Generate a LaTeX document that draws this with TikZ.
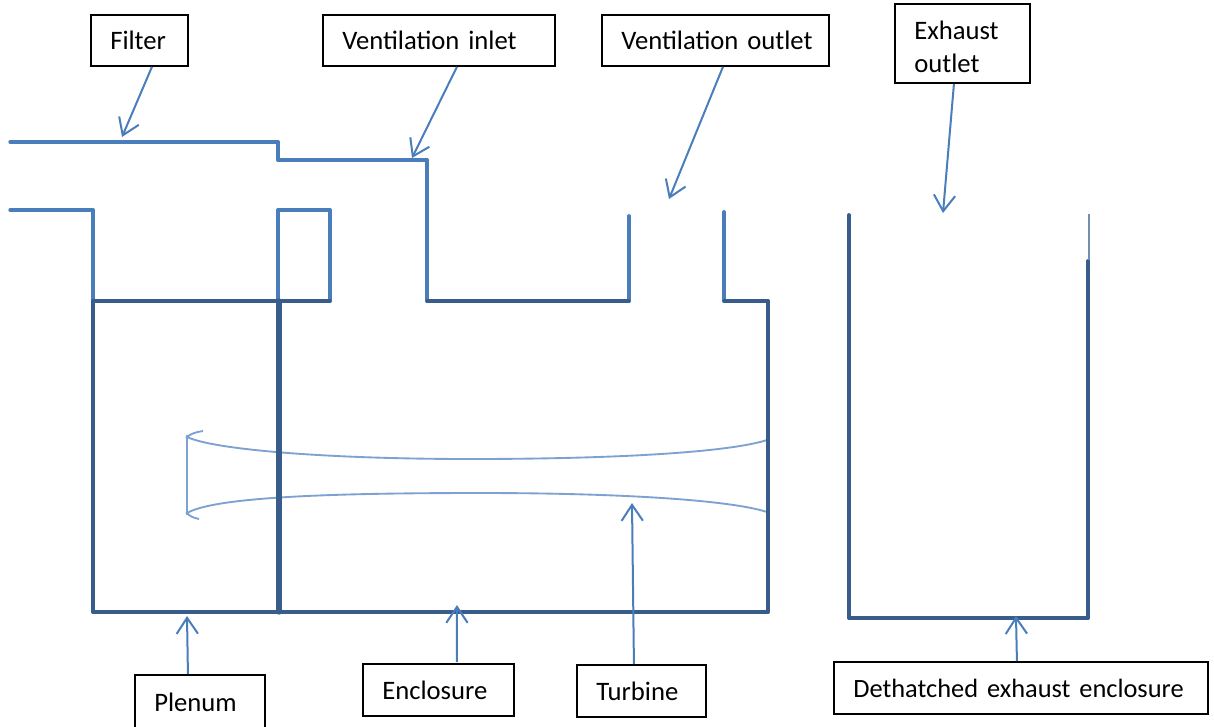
\documentclass[tikz,border=0pt]{standalone}
\usepackage{fontspec}
\setmainfont{Carlito}
\usetikzlibrary{arrows.meta,calc}
\newcommand{\ind}{\hspace*{14.5pt}}
\tikzset{
  lblbox/.style={draw=black,line width=1.4pt,fill=white,anchor=north west,inner xsep=0pt,inner ysep=0pt,
    align=left,font=\fontsize{20}{24.75}\selectfont,text=black},
  pointer/.style={draw=arrowblue,line width=1.5pt,-{Straight Barb[length=12pt,width=16pt,line width=1.5pt]}},
  wall/.style={draw=wallblue,line width=2.8pt,line cap=round},
  wallh/.style={draw=wallblue,line width=2.5pt,line cap=round},
  darkwall/.style={draw=darkblue,line width=2.8pt,line cap=round},
  darkwallh/.style={draw=darkblue,line width=2.5pt,line cap=round},
  turbineline/.style={draw=turbblue,line width=1.4pt}
}
\definecolor{arrowblue}{HTML}{4A7EBB}
\definecolor{wallblue}{HTML}{4A7EBB}
\definecolor{darkblue}{HTML}{385D8A}
\definecolor{turbblue}{HTML}{7DA2D2}
\begin{document}
\begin{tikzpicture}[x=0.75pt,y=-0.75pt]
\useasboundingbox (0,0) rectangle (1214,726);
% turbine
\draw[turbineline] (187,435) -- (187,515);
\draw[turbineline] (203,431) .. controls (196,432) and (190,434) .. (187,437)
  .. controls (215,450) and (330,459) .. (470,459)
  .. controls (620,459) and (730,452) .. (767,440);
\draw[turbineline] (199,519) .. controls (194,518) and (189,516) .. (187,513)
  .. controls (215,497) and (330,493) .. (480,493)
  .. controls (620,493) and (730,500) .. (767,512);
% light walls
\draw[wallh] (10,142) -- (278,142);
\draw[wall] (278,142) -- (278,160);
\draw[wallh] (278,160) -- (427,160);
\draw[wall] (427,160) -- (427,301);
\draw[wall] (629,301) -- (629,216);
\draw[wallh] (10,210) -- (93,210);
\draw[wall] (93,210) -- (93,301);
\draw[wall] (278,301) -- (278,210);
\draw[wallh] (278,210) -- (330,210);
\draw[wall] (330,210) -- (330,301);
\draw[wall] (724,212) -- (724,301);
% dark walls
\draw[darkwallh] (93,301) -- (330,301);
\draw[darkwallh] (427,301) -- (629,301);
\draw[darkwallh] (724,301) -- (768,301);
\draw[darkwall] (768,301) -- (768,612);
\draw[darkwallh] (93,612) -- (768,612);
\draw[darkwall] (93,301) -- (93,612);
\draw[darkwall,line width=4pt] (279,301) -- (279,612);
\draw[darkwall] (1088,261) -- (1088,618);
\draw[darkwallh] (849,618) -- (1088,618);
\draw[darkwall] (849,215) -- (849,618);
\draw[draw=darkblue!70,line width=1.3pt] (1089,214) -- (1089,260);
% labels
\node[lblbox,text width=97*0.75pt,minimum height=51*0.75pt] (filter) at (90,14) {\ind Filter};
\node[lblbox,text width=232*0.75pt,minimum height=51*0.75pt] (inlet) at (322,14) {\ind Ventilation inlet};
\node[lblbox,text width=227*0.75pt,minimum height=51*0.75pt] (outlet) at (601,14) {\ind Ventilation outlet};
\node[lblbox,text width=135*0.75pt,minimum height=79*0.75pt] (exhaust) at (894,3) {\ind\rule{0pt}{18.5pt}Exhaust\\[0pt]\ind outlet};
\node[lblbox,text width=130*0.75pt,minimum height=54*0.75pt] (plenum) at (134,674) {\ind Plenum};
\node[lblbox,text width=151*0.75pt,minimum height=52*0.75pt] (enclosure) at (362,663) {\ind Enclosure};
\node[lblbox,text width=129*0.75pt,minimum height=52*0.75pt] (turbine) at (576,664) {\ind Turbine};
\node[lblbox,text width=374*0.75pt,minimum height=52*0.75pt] (detached) at (833,661) {\ind\fontsize{19.8}{24.75}\selectfont Dethatched exhaust enclosure};
% free ends
\coordinate (filterend) at (122,137);
\coordinate (inletend) at (412,158);
\coordinate (outletend) at (669,199);
\coordinate (exhaustend) at (943,213);
\coordinate (plenumend) at (187,616);
\coordinate (enclosureend) at (457,605);
\coordinate (turbineend) at (632,503);
\coordinate (detachedend) at (1016,616);
% pointers
\draw[pointer] ($(filter.south)+(12.5,0)$) -- (filterend);
\draw[pointer] ($(inlet.south)+(18,0)$) -- (inletend);
\draw[pointer] ($(outlet.south)+(7.5,0)$) -- (outletend);
\draw[pointer] ($(exhaust.south)+(-8.5,0)$) -- (exhaustend);
\draw[pointer] ($(plenum.north)+(-12,0)$) -- (plenumend);
\draw[pointer] ($(enclosure.north)+(18.5,-1)$) -- (enclosureend);
\draw[pointer] ($(turbine.north)+(-7.5,0)$) -- (turbineend);
\draw[pointer] ($(detached.north)+(-4,0)$) -- (detachedend);
\end{tikzpicture}
\end{document}
